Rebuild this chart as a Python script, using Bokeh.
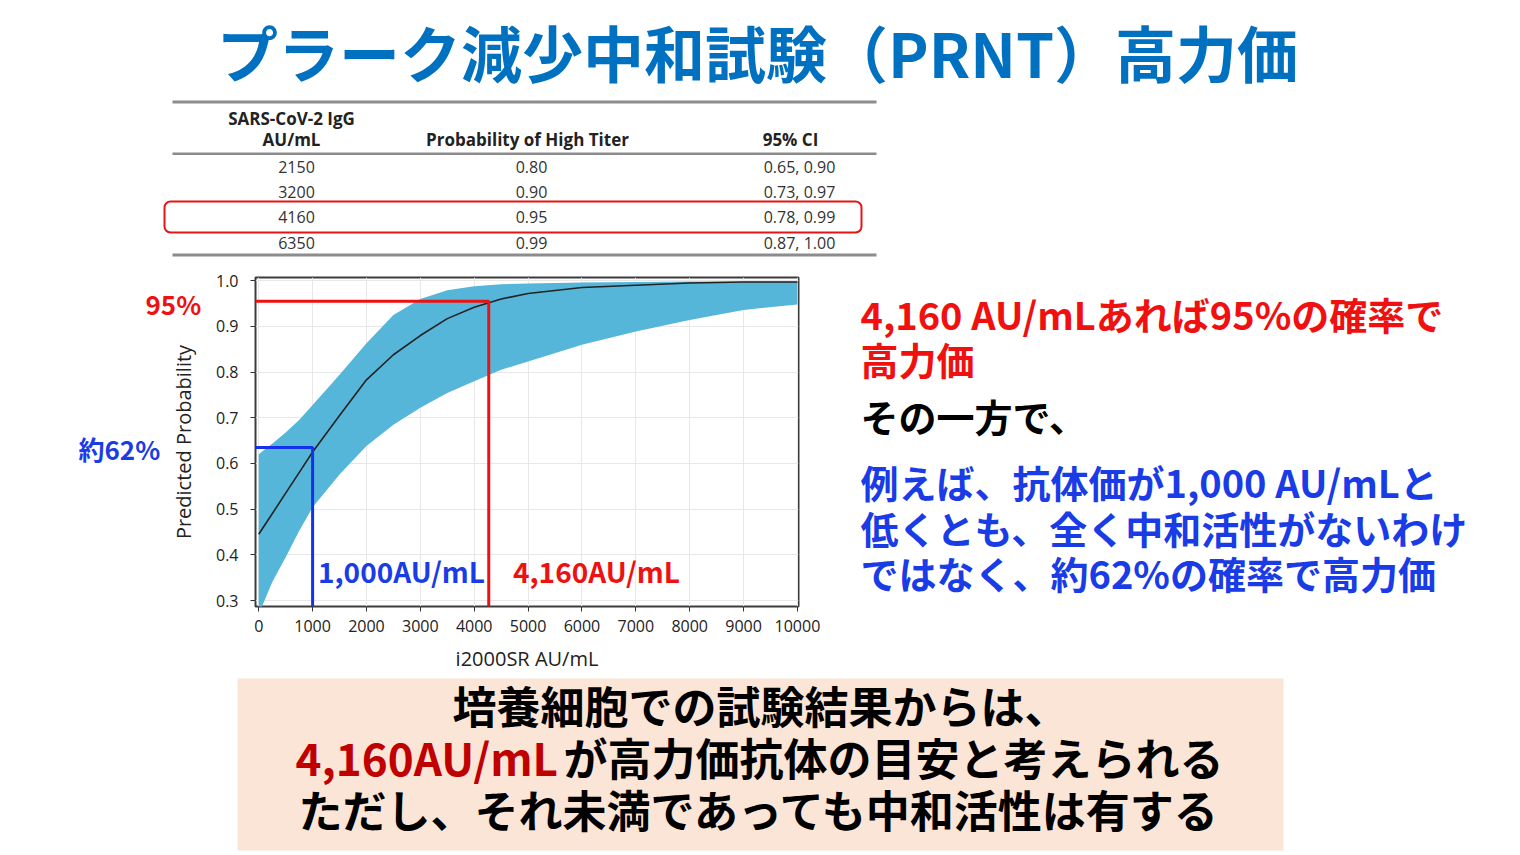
from bokeh.plotting import figure
from bokeh.models import Range1d, FixedTicker, PrintfTickFormatter, Label, BoxAnnotation, InlineStyleSheet
from bokeh.embed import file_html
from bokeh.resources import INLINE

# ---------------- data ----------------
x_au = [0, 250, 500, 750, 1000, 1500, 2000, 2500, 3000, 3500, 4000, 4500, 5000, 6000, 7000, 8000, 9000, 10000]
prob_fit = [0.445, 0.490, 0.535, 0.580, 0.625, 0.705, 0.783, 0.838, 0.880, 0.917, 0.942, 0.960, 0.972, 0.985, 0.990, 0.995, 0.997, 0.997]
ci_upper = [0.620, 0.643, 0.668, 0.695, 0.728, 0.794, 0.863, 0.925, 0.960, 0.979, 0.988, 0.992, 0.994, 0.996, 0.997, 0.998, 0.998, 0.998]
ci_lower = [0.270, 0.340, 0.395, 0.452, 0.504, 0.576, 0.638, 0.685, 0.722, 0.754, 0.780, 0.805, 0.823, 0.860, 0.889, 0.914, 0.936, 0.948]

x_ticks = [0, 1000, 2000, 3000, 4000, 5000, 6000, 7000, 8000, 9000, 10000]
y_ticks = [0.3, 0.4, 0.5, 0.6, 0.7, 0.8, 0.9, 1.0]

guide_high_x, guide_high_y = 4270, 0.955   # 95% guide
guide_low_x, guide_low_y = 1000, 0.635     # ~62% guide

table_header = ["SARS-CoV-2 IgG", "AU/mL", "Probability of High Titer", "95% CI"]
table_au = ["2150", "3200", "4160", "6350"]
table_prob = ["0.80", "0.90", "0.95", "0.99"]
table_ci = ["0.65, 0.90", "0.73, 0.97", "0.78, 0.99", "0.87, 1.00"]

title_text = "プラーク減少中和試験（PRNT）高力価"
right_red = ["4,160 AU/mLあれば95%の確率で", "高力価"]
right_black = "その一方で、"
right_blue = ["例えば、抗体価が1,000 AU/mLと", "低くとも、全く中和活性がないわけ", "ではなく、約62%の確率で高力価"]
bottom_line1 = "培養細胞での試験結果からは、"
bottom_line2_red = "4,160AU/mL"
bottom_line2_rest = "が高力価抗体の目安と考えられる"
bottom_line3 = "ただし、それ未満であっても中和活性は有する"

# ---------------- layout constants ----------------
W, H = 1520, 855
FL, FR, FT, FB = 255, 798, 277, 606
X0, X1 = -60, 10020
Y0, Y1 = 0.287, 1.007

JP = "Noto Sans CJK JP"
LAT = "Open Sans"
BAND = "#56B6DA"
RED = "#EE1111"
BLUE = "#1432EE"
TBLUE = "#1A3CE6"

# ================= background page (texts, table, boxes) =================
bg = figure(width=W, height=H, x_range=Range1d(0, W), y_range=Range1d(H, 0),
            x_axis_type=None, y_axis_type=None, output_backend="svg", toolbar_location=None,
            min_border=0, min_border_left=0, min_border_right=0, min_border_top=0, min_border_bottom=0)
bg.outline_line_color = None
bg.grid.visible = False
bg.background_fill_color = "white"
bg.border_fill_color = "white"


def lab(fig, x, y, text, size, color="black", font=JP, style="bold", align="left"):
    dy = -0.07 * size if font == JP else 0
    fig.add_layout(Label(x=x, y=y + dy, text=text, text_font=font, text_font_size=f"{size}px",
                         text_font_style=style, text_color=color, text_align=align,
                         text_baseline="middle"))


def box(l, r, t, b, fill=None, line=None, lw=0, radius=0, level="underlay"):
    bg.add_layout(BoxAnnotation(left=l, right=r, top=t, bottom=b,
                                fill_color=fill if fill else "white", fill_alpha=1 if fill else 0,
                                line_color=line if line else "white", line_width=lw,
                                line_alpha=1 if line else 0, border_radius=radius, level=level,
                                editable=False))


# title
lab(bg, 757, 55, title_text, 61, color="#0070C0", align="center")

# table
box(172, 876, 100, 103, fill="#8c8c8c")
box(172, 876, 152, 154.5, fill="#8c8c8c")
box(172, 876, 253, 256, fill="#8c8c8c")
lab(bg, 291, 118, table_header[0], 17, color="#222222", font=LAT, style="bold", align="center")
lab(bg, 291, 139, table_header[1], 17, color="#222222", font=LAT, style="bold", align="center")
lab(bg, 527, 139, table_header[2], 17, color="#222222", font=LAT, style="bold", align="center")
lab(bg, 790, 139, table_header[3], 17, color="#222222", font=LAT, style="bold", align="center")
row_y = [166, 191, 216, 242]
for i in range(len(table_au)):
    lab(bg, 296, row_y[i], table_au[i], 16, color="#333333", font=LAT, style="normal", align="center")
    lab(bg, 531, row_y[i], table_prob[i], 16, color="#333333", font=LAT, style="normal", align="center")
    lab(bg, 799, row_y[i], table_ci[i], 16, color="#333333", font=LAT, style="normal", align="center")
box(164, 861, 201, 232, line="#E31515", lw=2, radius=6, level="overlay")

# labels left of chart
lab(bg, 145, 305, "95%", 26, color=RED)
lab(bg, 78, 450, "約62%", 26, color=TBLUE)

# right-hand text
lab(bg, 860, 316, right_red[0], 38, color="#F01010")
lab(bg, 860, 361, right_red[1], 38, color="#F01010")
lab(bg, 860, 418, right_black, 38, color="black")
for i, t in enumerate(right_blue):
    lab(bg, 860, 484 + i * 45.5, t, 38, color=TBLUE)

# bottom box
box(237, 1283, 678, 850, fill="#FBE5D6")
lab(bg, 760, 708, bottom_line1, 44, color="black", align="center")
lab(bg, 295, 760, bottom_line2_red, 44, color="#C00000")
lab(bg, 563, 760, bottom_line2_rest, 44, color="black")
lab(bg, 760, 812, bottom_line3, 44, color="black", align="center")

# ================= chart (overlaid, transparent) =================
p = figure(width=W, height=H, x_range=Range1d(X0, X1), y_range=Range1d(Y0, Y1),
           output_backend="svg", toolbar_location=None,
           min_border_left=FL, min_border_right=W - FR, min_border_top=FT, min_border_bottom=H - FB)
p.outline_line_color = "#3c3c3c"
p.outline_line_width = 2
p.background_fill_alpha = 0
p.border_fill_alpha = 0

p.varea(x=x_au, y1=ci_lower, y2=ci_upper, fill_color=BAND, fill_alpha=1)
p.line(x_au, prob_fit, line_color="#222222", line_width=1.6)
p.line([X0, guide_high_x, guide_high_x], [guide_high_y, guide_high_y, Y0], line_color=RED, line_width=3)
p.line([X0, guide_low_x, guide_low_x], [guide_low_y, guide_low_y, Y0], line_color=BLUE, line_width=3)

p.xaxis.ticker = FixedTicker(ticks=x_ticks)
p.yaxis.ticker = FixedTicker(ticks=y_ticks)
p.xaxis.formatter = PrintfTickFormatter(format="%d")
p.yaxis.formatter = PrintfTickFormatter(format="%.1f")
p.xaxis.axis_label = "i2000SR AU/mL"
p.yaxis.axis_label = "Predicted Probability"
for ax in (p.xaxis[0], p.yaxis[0]):
    ax.axis_line_color = None
    ax.major_tick_line_color = "#333333"
    ax.major_tick_out = 5
    ax.major_tick_in = 0
    ax.minor_tick_line_color = None
    ax.major_label_text_font = LAT
    ax.major_label_text_font_size = "16px"
    ax.major_label_text_color = "#222222"
    ax.axis_label_text_font = LAT
    ax.axis_label_text_font_size = "20px"
    ax.axis_label_text_font_style = "normal"
    ax.axis_label_text_color = "#222222"
p.xaxis.major_label_standoff = 8
p.xaxis.axis_label_standoff = 10
p.yaxis.major_label_standoff = 12
p.yaxis.axis_label_standoff = 16
p.grid.grid_line_color = "#e8e8e8"
p.grid.grid_line_width = 1

# in-frame labels (data coordinates of the chart)
p.add_layout(Label(x=guide_low_x + 100, y=0.365, text="1,000AU/mL", text_font=JP, text_font_size="28px",
                   text_font_style="bold", text_color=TBLUE, text_baseline="middle"))
p.add_layout(Label(x=guide_high_x + 450, y=0.365, text="4,160AU/mL", text_font=JP, text_font_size="28px",
                   text_font_style="bold", text_color=RED, text_baseline="middle"))

p.stylesheets = [InlineStyleSheet(css=":host { position: absolute !important; left: 0px !important; top: 0px !important; z-index: 5; }")]

open("out.html", "w").write(file_html([bg, p], INLINE))
